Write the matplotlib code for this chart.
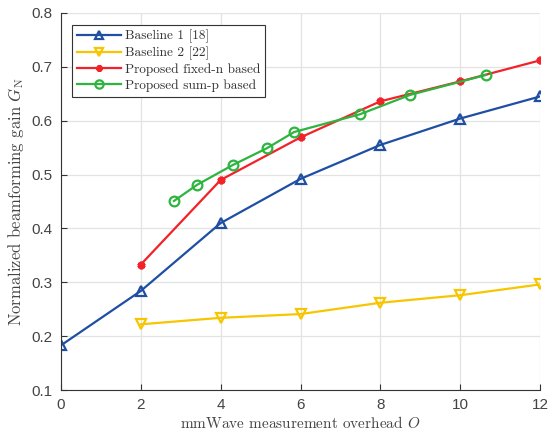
import matplotlib
matplotlib.use("Agg")
import matplotlib.pyplot as plt

# Data
x_b1 = [0, 2, 4, 6, 8, 10, 12]
y_b1 = [0.183, 0.284, 0.410, 0.492, 0.555, 0.604, 0.645]

x_b2 = [2, 4, 6, 8, 10, 12]
y_b2 = [0.222, 0.234, 0.241, 0.262, 0.276, 0.296]

x_fn = [2, 4, 6, 8, 10, 12]
y_fn = [0.333, 0.490, 0.569, 0.636, 0.673, 0.712]

x_sp = [2.83, 3.41, 4.31, 5.16, 5.84, 7.49, 8.75, 10.65]
y_sp = [0.451, 0.481, 0.518, 0.549, 0.579, 0.612, 0.648, 0.685]

x_ticks = [0, 2, 4, 6, 8, 10, 12]
y_ticks = [0.1, 0.2, 0.3, 0.4, 0.5, 0.6, 0.7, 0.8]

plt.rcParams['mathtext.fontset'] = 'cm'

fig = plt.figure(figsize=(5.53, 4.33), dpi=100)
ax = fig.add_axes([61 / 553, 1 - 390 / 433, (540 - 61) / 553, (390 - 13) / 433])

ax.plot(x_b1, y_b1, color='#1f4fa3', lw=1.6, marker='^', ms=7, mfc='none', mew=1.6,
        label='Baseline 1 [18]')
ax.plot(x_b2, y_b2, color='#f7c600', lw=1.6, marker='v', ms=7, mfc='none', mew=1.6,
        label='Baseline 2 [22]')
ax.plot(x_fn, y_fn, color='#f22228', lw=1.6, marker=(6, 2, 0), ms=5.5, mew=2.2,
        label='Proposed fixed-n based')
ax.plot(x_sp, y_sp, color='#2db53f', lw=1.6, marker='o', ms=7, mfc='none', mew=1.6,
        label='Proposed sum-p based')

ax.set_xlim(0, 12)
ax.set_ylim(0.1, 0.8)
ax.set_xticks(x_ticks)
ax.set_yticks(y_ticks)
ax.set_yticklabels([f'{v:.1f}' for v in y_ticks])
ax.grid(True, color='#e3e3e3', lw=0.9)
ax.set_axisbelow(True)

for s in ('top', 'right'):
    ax.spines[s].set_visible(False)
for s in ('left', 'bottom'):
    ax.spines[s].set_color('#333333')
    ax.spines[s].set_linewidth(0.8)

ax.tick_params(direction='in', length=4, width=0.8, colors='#333333',
               labelsize=11, labelcolor='#444444', pad=6)
for lab in ax.get_xticklabels() + ax.get_yticklabels():
    lab.set_family('Liberation Sans')

ax.set_xlabel('mmWave measurement overhead $O$', fontdict={'family': 'cmr10', 'size': 11},
              color='#444444', labelpad=2)
ax.set_ylabel('Normalized beamforming gain $G_{\\rm N}$', fontdict={'family': 'cmr10', 'size': 12},
              color='#444444', labelpad=4)

leg = ax.legend(loc='upper left', bbox_to_anchor=(0.024, 0.968), prop={'family': 'cmr10', 'size': 9.6},
                frameon=True, fancybox=False, edgecolor='#333333', framealpha=1,
                handlelength=3.3, borderpad=0.35, labelspacing=0.25, handletextpad=0.3,
                borderaxespad=0, markerscale=0.85)
leg.get_frame().set_linewidth(0.8)
for t in leg.get_texts():
    t.set_color('#333333')

fig.savefig('out.png', dpi=100)
